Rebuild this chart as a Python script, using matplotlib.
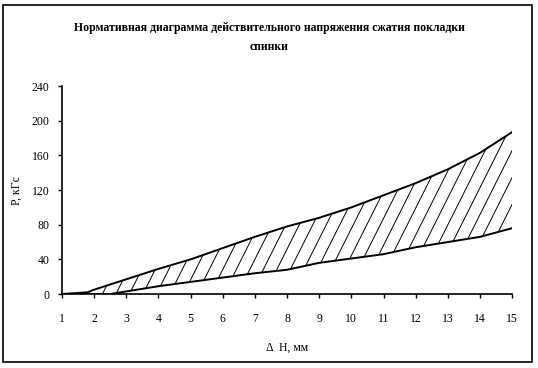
import numpy as np
import matplotlib as mpl
mpl.use('Agg')
import matplotlib.pyplot as plt
from matplotlib.collections import LineCollection
from matplotlib.patches import Rectangle

# values
dH = [1, 1.8, 2, 2.5, 3, 4, 5, 6, 7, 8, 9, 10, 11, 12, 13, 14, 15]
P_upper = [0, 2, 5, 11, 17, 29, 40, 53, 66, 78, 88, 100, 114, 128, 144, 163, 187]
P_lower = [0, 0, 0, 0, 3, 9, 14, 19, 24, 28, 36, 41, 46, 54, 60, 66, 76]

xticks = list(range(1, 16))
yticks = [0, 40, 80, 120, 160, 200, 240]

title = 'Нормативная диаграмма действительного напряжения сжатия покладки\nспинки'
xlabel = 'Δ  Н, мм'
ylabel = 'Р, кГс'

plt.rcParams['font.family'] = ['Liberation Serif', 'DejaVu Serif']

fig = plt.figure(figsize=(5.38, 3.68), dpi=100)
ax = fig.add_axes([0.115, 0.201, 0.837, 0.565])

# outer frame like the Excel chart area
fig.patches.append(Rectangle((0.006, 0.016), 0.983, 0.970, transform=fig.transFigure,
                             fill=False, edgecolor='k', linewidth=1.2))

ax.plot(dH, P_upper, color='k', linewidth=1.4, zorder=3)
ax.plot(dH, P_lower, color='k', linewidth=1.4, zorder=3)

# hatched band between the two curves, steep "/" lines
band = ax.fill_between(dH, P_lower, P_upper, facecolor='none', edgecolor='none')
clip = band.get_paths()[0]
slope = 74.0
segs = []
for c in np.arange(1.0, 17.0, 0.42):
    segs.append([(c, 0), (c + 260 / slope, 260)])
hatch = LineCollection(segs, colors='k', linewidths=0.7, zorder=2)
ax.add_collection(hatch)
hatch.set_clip_path(clip, ax.transData)

ax.set_xlim(1, 15)
ax.set_ylim(0, 240)
ax.set_xticks(xticks)
ax.set_yticks(yticks)
ax.tick_params(direction='out', length=3, width=1, labelsize=8.5)
ax.tick_params(axis='x', pad=11)
ax.tick_params(axis='y', pad=6)
for s in ['top', 'right']:
    ax.spines[s].set_visible(False)
for s in ['left', 'bottom']:
    ax.spines[s].set_linewidth(1.2)

ax.set_xlabel(xlabel, fontsize=8.5, labelpad=12)
ax.set_ylabel(ylabel, fontsize=8.5, labelpad=6)
fig.text(0.5, 0.898, title, ha='center', va='center', fontsize=8.5,
         fontweight='bold', linespacing=1.7)

fig.savefig('out.png', dpi=100)
